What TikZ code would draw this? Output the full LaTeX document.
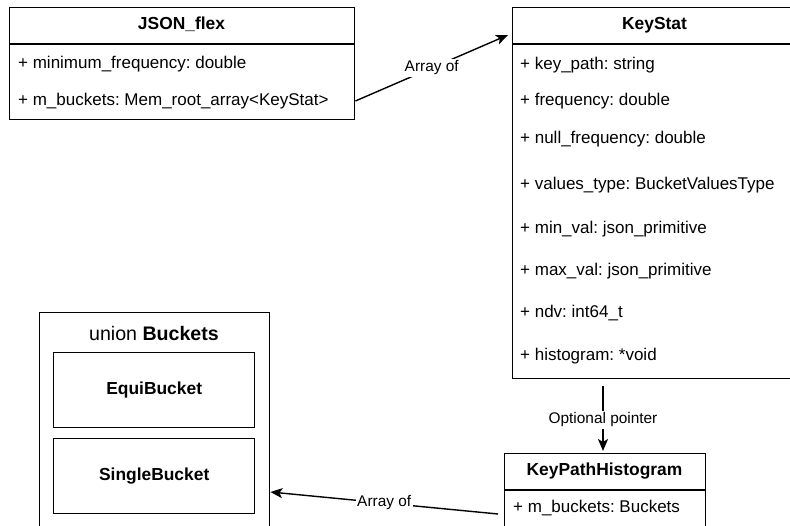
\documentclass[tikz,border=0pt]{standalone}
\usepackage{fontspec}
\setmainfont{Liberation Sans}
\usetikzlibrary{arrows.meta,calc}
\frenchspacing
\begin{document}
\begin{tikzpicture}[x=1pt,y=-1pt,
 box/.style={draw,line width=1.4pt,inner sep=0,anchor=north west},
 attr/.style={anchor=west,inner sep=0,text height=12.2pt,text depth=3.6pt,font=\fontsize{17}{20}\selectfont},
 hdr/.style={inner sep=0,text height=12.2pt,text depth=3.6pt,font=\fontsize{17.4}{20}\selectfont\bfseries},
 lbl/.style={fill=white,inner sep=1.5pt,font=\fontsize{15.4}{18}\selectfont},
 sep/.style={line width=1.4pt},
 arr/.style={line width=1.4pt,-{Stealth[length=12pt,width=10pt,inset=3pt]}}]
\useasboundingbox (0,0) rectangle (790,526);

% JSON_flex
\node[box,minimum width=345pt,minimum height=112pt] (jf) at (9,7) {};
\draw[sep] (9,44) -- (354,44);
\node[hdr] (jfh) at (181.5,25) {JSON\_flex};
\node[attr] (jfa) at (18,64) {+ minimum\_frequency: double};
\node[attr] (jfb) at (18,101) {+ m\_buckets: Mem\_root\_array<KeyStat>};

% KeyStat
\node[box,minimum width=285pt,minimum height=371pt] (ks) at (512,7) {};
\draw[sep] (512,44) -- (797,44);
\node[hdr] (ksh) at (654.5,25) {KeyStat};
\node[attr] (ks1) at (520,65) {+ key\_path: string};
\node[attr] (ks2) at (520,101) {+ frequency: double};
\node[attr] (ks3) at (520,139) {+ null\_frequency: double};
\node[attr] (ks4) at (520,185) {+ values\_type: BucketValuesType};
\node[attr] (ks5) at (520,229) {+ min\_val: json\_primitive};
\node[attr] (ks6) at (520,271) {+ max\_val: json\_primitive};
\node[attr] (ks7) at (520,313) {+ ndv: int64\_t};
\node[attr] (ks8) at (520,356) {+ histogram: *void};

% union Buckets
\node[box,minimum width=230pt,minimum height=230pt] (bu) at (39,312) {};
\node[inner sep=0,font=\fontsize{19.6}{23}\selectfont] (buh) at (154,333) {union \textbf{Buckets}};
\node[box,minimum width=201pt,minimum height=75pt] (eq) at (53,352) {};
\node[hdr] (eqt) at (eq.center) {EquiBucket};
\node[box,minimum width=201pt,minimum height=75pt] (sb) at (53,438) {};
\node[hdr] (sbt) at (sb.center) {SingleBucket};

% KeyPathHistogram
\node[box,minimum width=201pt,minimum height=90pt] (kph) at (504,453) {};
\draw[sep] (504,490) -- (705,490);
\node[hdr] (kphh) at (604.5,471) {KeyPathHistogram};
\node[attr] (kph1) at (513,508) {+ m\_buckets: Buckets};

% connectors
\draw[arr] (jf.east |- jfb) -- ($(ks.north west)+(-4,28)$)
  node[lbl,pos=0.5] {Array of};
\draw[arr] ($(ks.south west)+(91,7)$) -- ($(kph.north west)+(99,-2)$)
  node[lbl,pos=0.52] {Optional pointer};
\draw[arr] ($(kph1.west)+(-15,6)$) -- ($(bu.north east)+(0,180)$)
  node[lbl,pos=0.5] {Array of};
\end{tikzpicture}
\end{document}
